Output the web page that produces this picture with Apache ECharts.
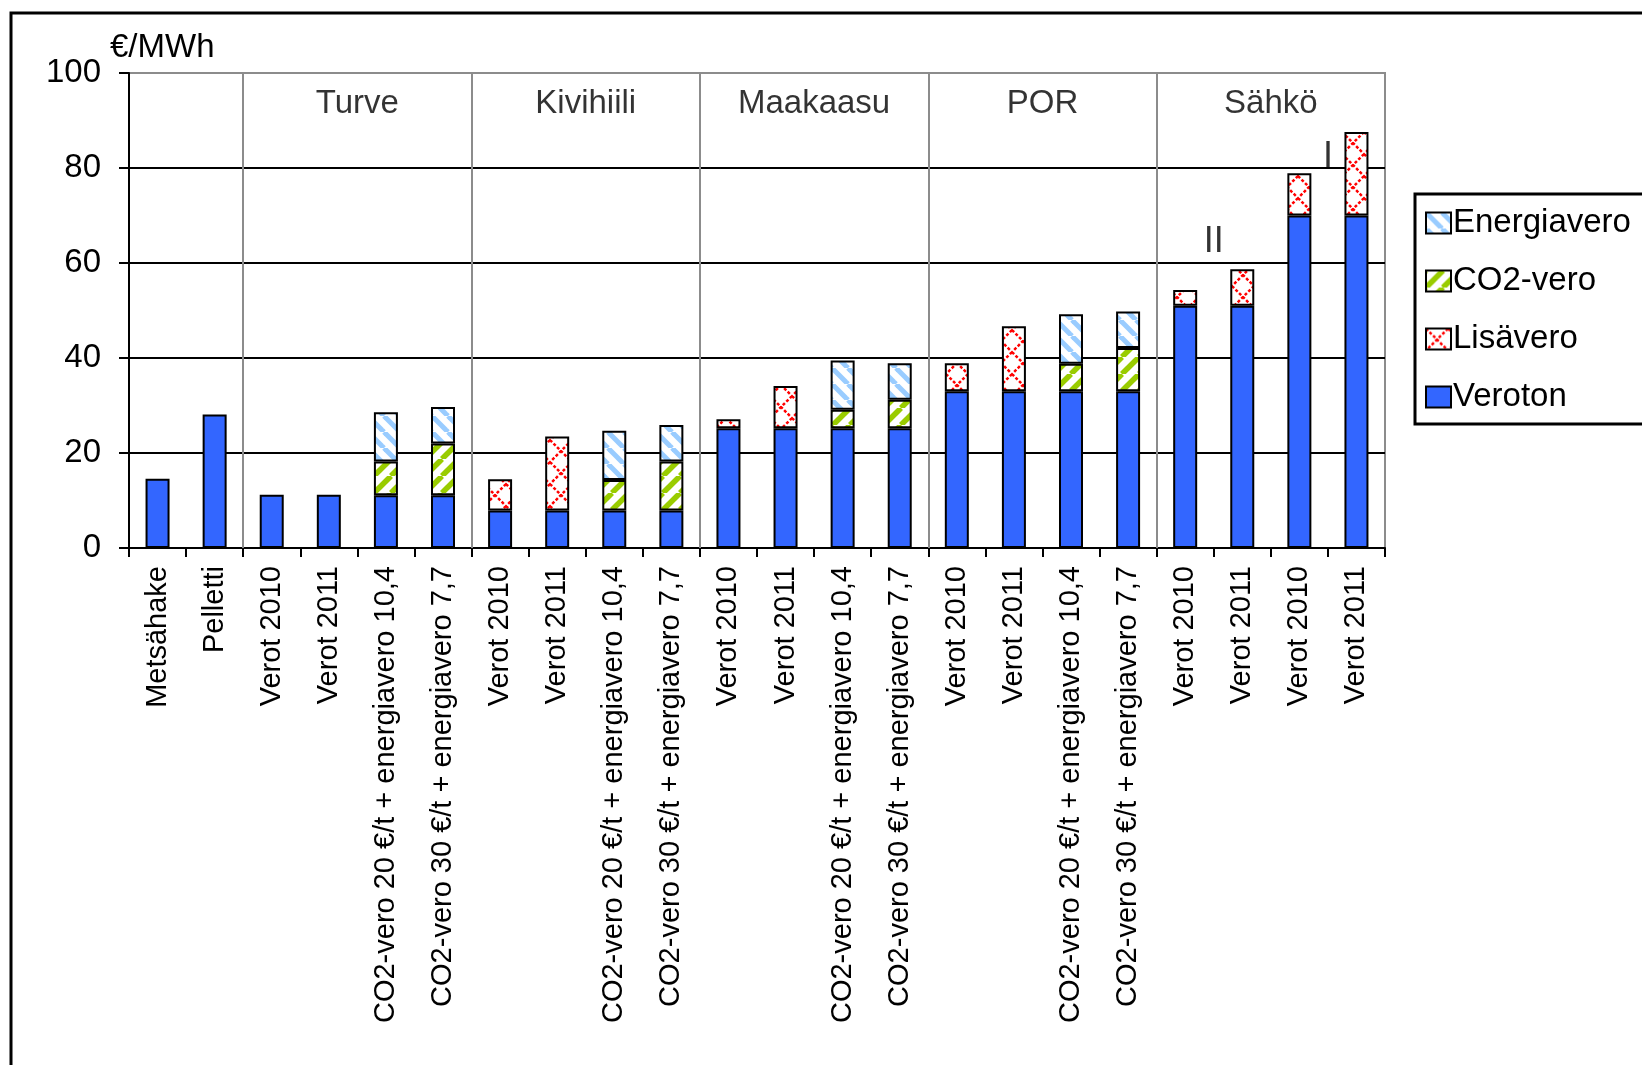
<!DOCTYPE html>
<html>
<head>
<meta charset="utf-8">
<script src="https://cdn.jsdelivr.net/npm/echarts@6/dist/echarts.min.js"></script>
<style>
  html, body { margin: 0; padding: 0; background: #ffffff; }
  #chart { width: 1642px; height: 1065px; }
</style>
</head>
<body>
<div id="chart"></div>
<script>
// Fuel categories along the x axis
const categories = [
  'Metsähake', 'Pelletti',
  'Verot 2010', 'Verot 2011', 'CO2-vero 20 €/t + energiavero 10,4', 'CO2-vero 30 €/t + energiavero 7,7',
  'Verot 2010', 'Verot 2011', 'CO2-vero 20 €/t + energiavero 10,4', 'CO2-vero 30 €/t + energiavero 7,7',
  'Verot 2010', 'Verot 2011', 'CO2-vero 20 €/t + energiavero 10,4', 'CO2-vero 30 €/t + energiavero 7,7',
  'Verot 2010', 'Verot 2011', 'CO2-vero 20 €/t + energiavero 10,4', 'CO2-vero 30 €/t + energiavero 7,7',
  'Verot 2010', 'Verot 2011', 'Verot 2010', 'Verot 2011'
];

// Price components, €/MWh (0 = component not present)
const veroton     = [14.6, 28.1, 11.2, 11.2, 11.1, 11.1, 7.9, 7.9, 7.9, 7.9, 25.2, 25.2, 25.2, 25.2, 33.0, 33.0, 33.0, 33.0, 51.0, 51.0, 70.0, 70.0];
const lisavero    = [0, 0, 0, 0, 0, 0, 6.6, 15.6, 0, 0, 1.9, 8.9, 0, 0, 5.9, 13.7, 0, 0, 3.3, 7.7, 8.9, 17.6];
const co2vero     = [0, 0, 0, 0, 7.1, 10.9, 0, 0, 6.4, 10.3, 0, 0, 3.9, 6.0, 0, 0, 5.8, 9.1, 0, 0, 0, 0];
const energiavero = [0, 0, 0, 0, 10.4, 7.7, 0, 0, 10.4, 7.7, 0, 0, 10.4, 7.7, 0, 0, 10.4, 7.7, 0, 0, 0, 0];

// Fuel groups: name, first category index, index after the last category
const groupNames  = ['Turve', 'Kivihiili', 'Maakaasu', 'POR', 'Sähkö'];
const groupStarts = [2, 6, 10, 14, 18];
const groupEnds   = [6, 10, 14, 18, 22];

// Tariff class markers above the electricity bars
const tariffTexts  = ['II', 'I'];
const tariffAt     = [19, 21];
const tariffLevels = [64.5, 82.2];

// Value axis ticks
const yMin = 0, yMax = 100, yStep = 20;

const FONT = "'Liberation Sans', Arial, sans-serif";

// Hatch fills
function stripeTile(color, dir, size, width) {
  const c = document.createElement('canvas');
  c.width = size; c.height = size;
  const g = c.getContext('2d');
  g.fillStyle = '#ffffff';
  g.fillRect(0, 0, size, size);
  g.strokeStyle = color;
  g.lineWidth = width;
  for (const o of [-size, 0, size]) {
    g.beginPath();
    if (dir === 'down') { g.moveTo(o, 0); g.lineTo(o + size, size); }
    else { g.moveTo(o, size); g.lineTo(o + size, 0); }
    g.stroke();
  }
  return c;
}
function crossTile(color, w, h) {
  const c = document.createElement('canvas');
  c.width = w; c.height = h;
  const g = c.getContext('2d');
  g.fillStyle = '#ffffff';
  g.fillRect(0, 0, w, h);
  g.strokeStyle = color;
  g.lineWidth = 2.5;
  g.setLineDash([3, 2]);
  g.beginPath(); g.moveTo(0, 0); g.lineTo(w, h); g.stroke();
  g.beginPath(); g.moveTo(w, 0); g.lineTo(0, h); g.stroke();
  return c;
}

const fillVeroton = '#3366ff';
const fillLisa    = { image: crossTile('#ff0000', 22, 22), repeat: 'repeat' };
const fillCo2     = { image: stripeTile('#99cc00', 'up', 17, 5.5), repeat: 'repeat' };
const fillEnergia = { image: stripeTile('#99ccff', 'down', 16, 5), repeat: 'repeat' };

const stackDefs = [
  { name: 'Veroton', data: veroton, color: fillVeroton },
  { name: 'Lisävero', data: lisavero, color: fillLisa },
  { name: 'CO2-vero', data: co2vero, color: fillCo2 },
  { name: 'Energiavero', data: energiavero, color: fillEnergia }
];

const barSeries = stackDefs.map(s => ({
  type: 'bar',
  name: s.name,
  stack: 'hinta',
  barWidth: 24,
  data: s.data.map(v => (v > 0 ? v : '-')),
  itemStyle: { color: s.color, borderColor: '#000000', borderWidth: 2 },
  emphasis: { disabled: true },
  silent: true
}));

const groupLabelSeries = {
  type: 'scatter',
  xAxisIndex: 1,
  yAxisIndex: 0,
  symbolSize: 1,
  itemStyle: { color: 'rgba(0,0,0,0)' },
  silent: true,
  data: groupNames.map((n, i) => ({ value: [(groupStarts[i] + groupEnds[i]) / 2, 93.5], name: n })),
  label: { show: true, position: 'inside', formatter: '{b}', fontSize: 33, color: '#000000', fontFamily: FONT },
  markLine: {
    silent: true,
    symbol: 'none',
    label: { show: false },
    lineStyle: { color: '#8c8c8c', width: 2, type: 'solid' },
    data: groupStarts.map(x => ({ xAxis: x }))
  }
};

const tariffSeries = {
  type: 'scatter',
  xAxisIndex: 1,
  yAxisIndex: 0,
  symbolSize: 1,
  itemStyle: { color: 'rgba(0,0,0,0)' },
  silent: true,
  data: tariffTexts.map((t, i) => ({ value: [tariffAt[i], tariffLevels[i]], name: t })),
  label: { show: true, position: 'inside', formatter: '{b}', fontSize: 36, color: '#000000', fontFamily: FONT }
};

const chart = echarts.init(document.getElementById('chart'), null, { renderer: 'canvas' });

chart.setOption({
  animation: false,
  backgroundColor: '#ffffff',
  textStyle: { fontFamily: FONT, color: '#000000' },
  grid: {
    left: 129, right: 257, top: 73, bottom: 517,
    show: true, borderColor: '#8c8c8c', borderWidth: 2, backgroundColor: 'transparent'
  },
  legend: {
    orient: 'vertical',
    left: 1425,
    top: 205,
    padding: 0,
    icon: 'rect',
    itemWidth: 25,
    itemHeight: 21,
    itemGap: 22,
    data: ['Energiavero', 'CO2-vero', 'Lisävero', 'Veroton'],
    itemStyle: { borderColor: '#000000', borderWidth: 2 },
    textStyle: { fontSize: 33, color: '#000000', fontFamily: FONT, lineHeight: 36, padding: [0, 0, 0, -3] },
    selectedMode: false
  },
  xAxis: [
    {
      type: 'category',
      data: categories,
      axisLine: { show: true, lineStyle: { color: '#000000', width: 2 } },
      axisTick: { show: true, length: 9, lineStyle: { color: '#000000', width: 2 } },
      axisLabel: { interval: 0, rotate: 90, fontSize: 29, color: '#000000', margin: 18, fontFamily: FONT },
      splitLine: { show: false }
    },
    { type: 'value', min: 0, max: categories.length, show: false }
  ],
  yAxis: {
    type: 'value',
    min: yMin, max: yMax, interval: yStep,
    axisLine: { show: true, lineStyle: { color: '#000000', width: 2 } },
    axisTick: { show: true, length: 10, lineStyle: { color: '#000000', width: 2 } },
    axisLabel: { fontSize: 33, color: '#000000', margin: 28, fontFamily: FONT },
    splitLine: { show: true, lineStyle: { color: ['#000000', '#000000', '#000000', '#000000', '#000000', '#8c8c8c'], width: 2 } }
  },
  graphic: [
    { type: 'rect', z: -10, silent: true, shape: { x: 11, y: 13, width: 1700, height: 1100 }, style: { fill: null, stroke: '#000000', lineWidth: 3 } },
    { type: 'rect', z: 0, silent: true, shape: { x: 1415, y: 194, width: 300, height: 230 }, style: { fill: null, stroke: '#000000', lineWidth: 3 } },
    { type: 'text', left: 110, top: 31, silent: true, style: { text: '€/MWh', fontSize: 33, fill: '#000000', fontFamily: FONT } }
  ],
  series: [...barSeries, groupLabelSeries, tariffSeries]
});
</script>
</body>
</html>
